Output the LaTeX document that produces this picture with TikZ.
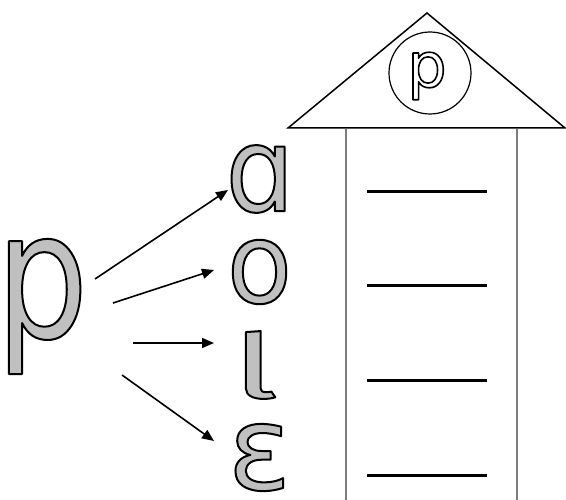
\documentclass[tikz,border=0pt]{standalone}
\usepackage{fontspec}
\setmainfont{DejaVu Sans}
\newfontfamily\firafont{Fira Sans}
\usetikzlibrary{arrows.meta}
\definecolor{lettergray}{RGB}{192,192,192}
\definecolor{wallgray}{RGB}{125,125,125}
% #1 stroke width (bp), #2 fill colour, #3 text: filled and outlined in black
\newcommand{\outl}[3]{{\color{#2}\special{pdf:literal direct 2 Tr #1 w 0 G 1 j}#3\special{pdf:literal direct 0 Tr}}}
\newcommand{\lsize}[2]{\fontsize{#1}{#1}\selectfont\addfontfeature{FakeStretch=#2}}
\begin{document}
\begin{tikzpicture}[x=1pt,y=-1pt,
  letter/.style={inner sep=0pt},
  arr/.style={line width=1.6pt, -{Triangle[length=12pt,width=10pt]}},
  blank/.style={line width=3pt},
  roof/.style={line width=1.5pt, line join=miter},
  wall/.style={wallgray, line width=1.5pt}]
\useasboundingbox (0,0) rectangle (566,500);
% house
\draw[roof] (288,128) -- (427,13) -- (565,128) -- cycle;
\node[circle, draw, line width=1.2pt, minimum size=82pt, inner sep=0pt] (badge) at (430,73) {};
\node[letter] (ptop) at (427,76) {\lsize{62pt}{1}\outl{1.6}{white}{p}};
\draw[wall] (346,129) -- (346,500);
\draw[wall] (517,129) -- (517,500);
\draw[blank] (367,192) -- (487,192);
\draw[blank] (367,286) -- (487,286);
\draw[blank] (367,381) -- (487,381);
\draw[blank] (367,475) -- (487,475);
% letters
\node[letter] (bigp) at (42,306.5) {\lsize{176pt}{0.83}\outl{2}{lettergray}{p}};
\node[letter] (la) at (260,179) {\lsize{118pt}{0.92}\outl{2}{lettergray}{ɑ}};
\node[letter] (lo) at (259.5,272) {\lsize{112pt}{0.95}\outl{2}{lettergray}{o}};
\node[letter] (ll) at (255,365) {\firafont\lsize{89pt}{1.8}\outl{2}{lettergray}{l}};
\node[letter] (le) at (259.5,457.5) {\lsize{117pt}{1}\outl{2}{lettergray}{ε}};
% arrows
\coordinate (s1) at (95,279);  \coordinate (e1) at (228,190);
\coordinate (s2) at (113,303); \coordinate (e2) at (214,270);
\coordinate (s3) at (133,343); \coordinate (e3) at (214,343);
\coordinate (s4) at (122,375); \coordinate (e4) at (214,441);
\draw[arr] (s1) -- (e1);
\draw[arr] (s2) -- (e2);
\draw[arr] (s3) -- (e3);
\draw[arr] (s4) -- (e4);
\end{tikzpicture}
\end{document}
